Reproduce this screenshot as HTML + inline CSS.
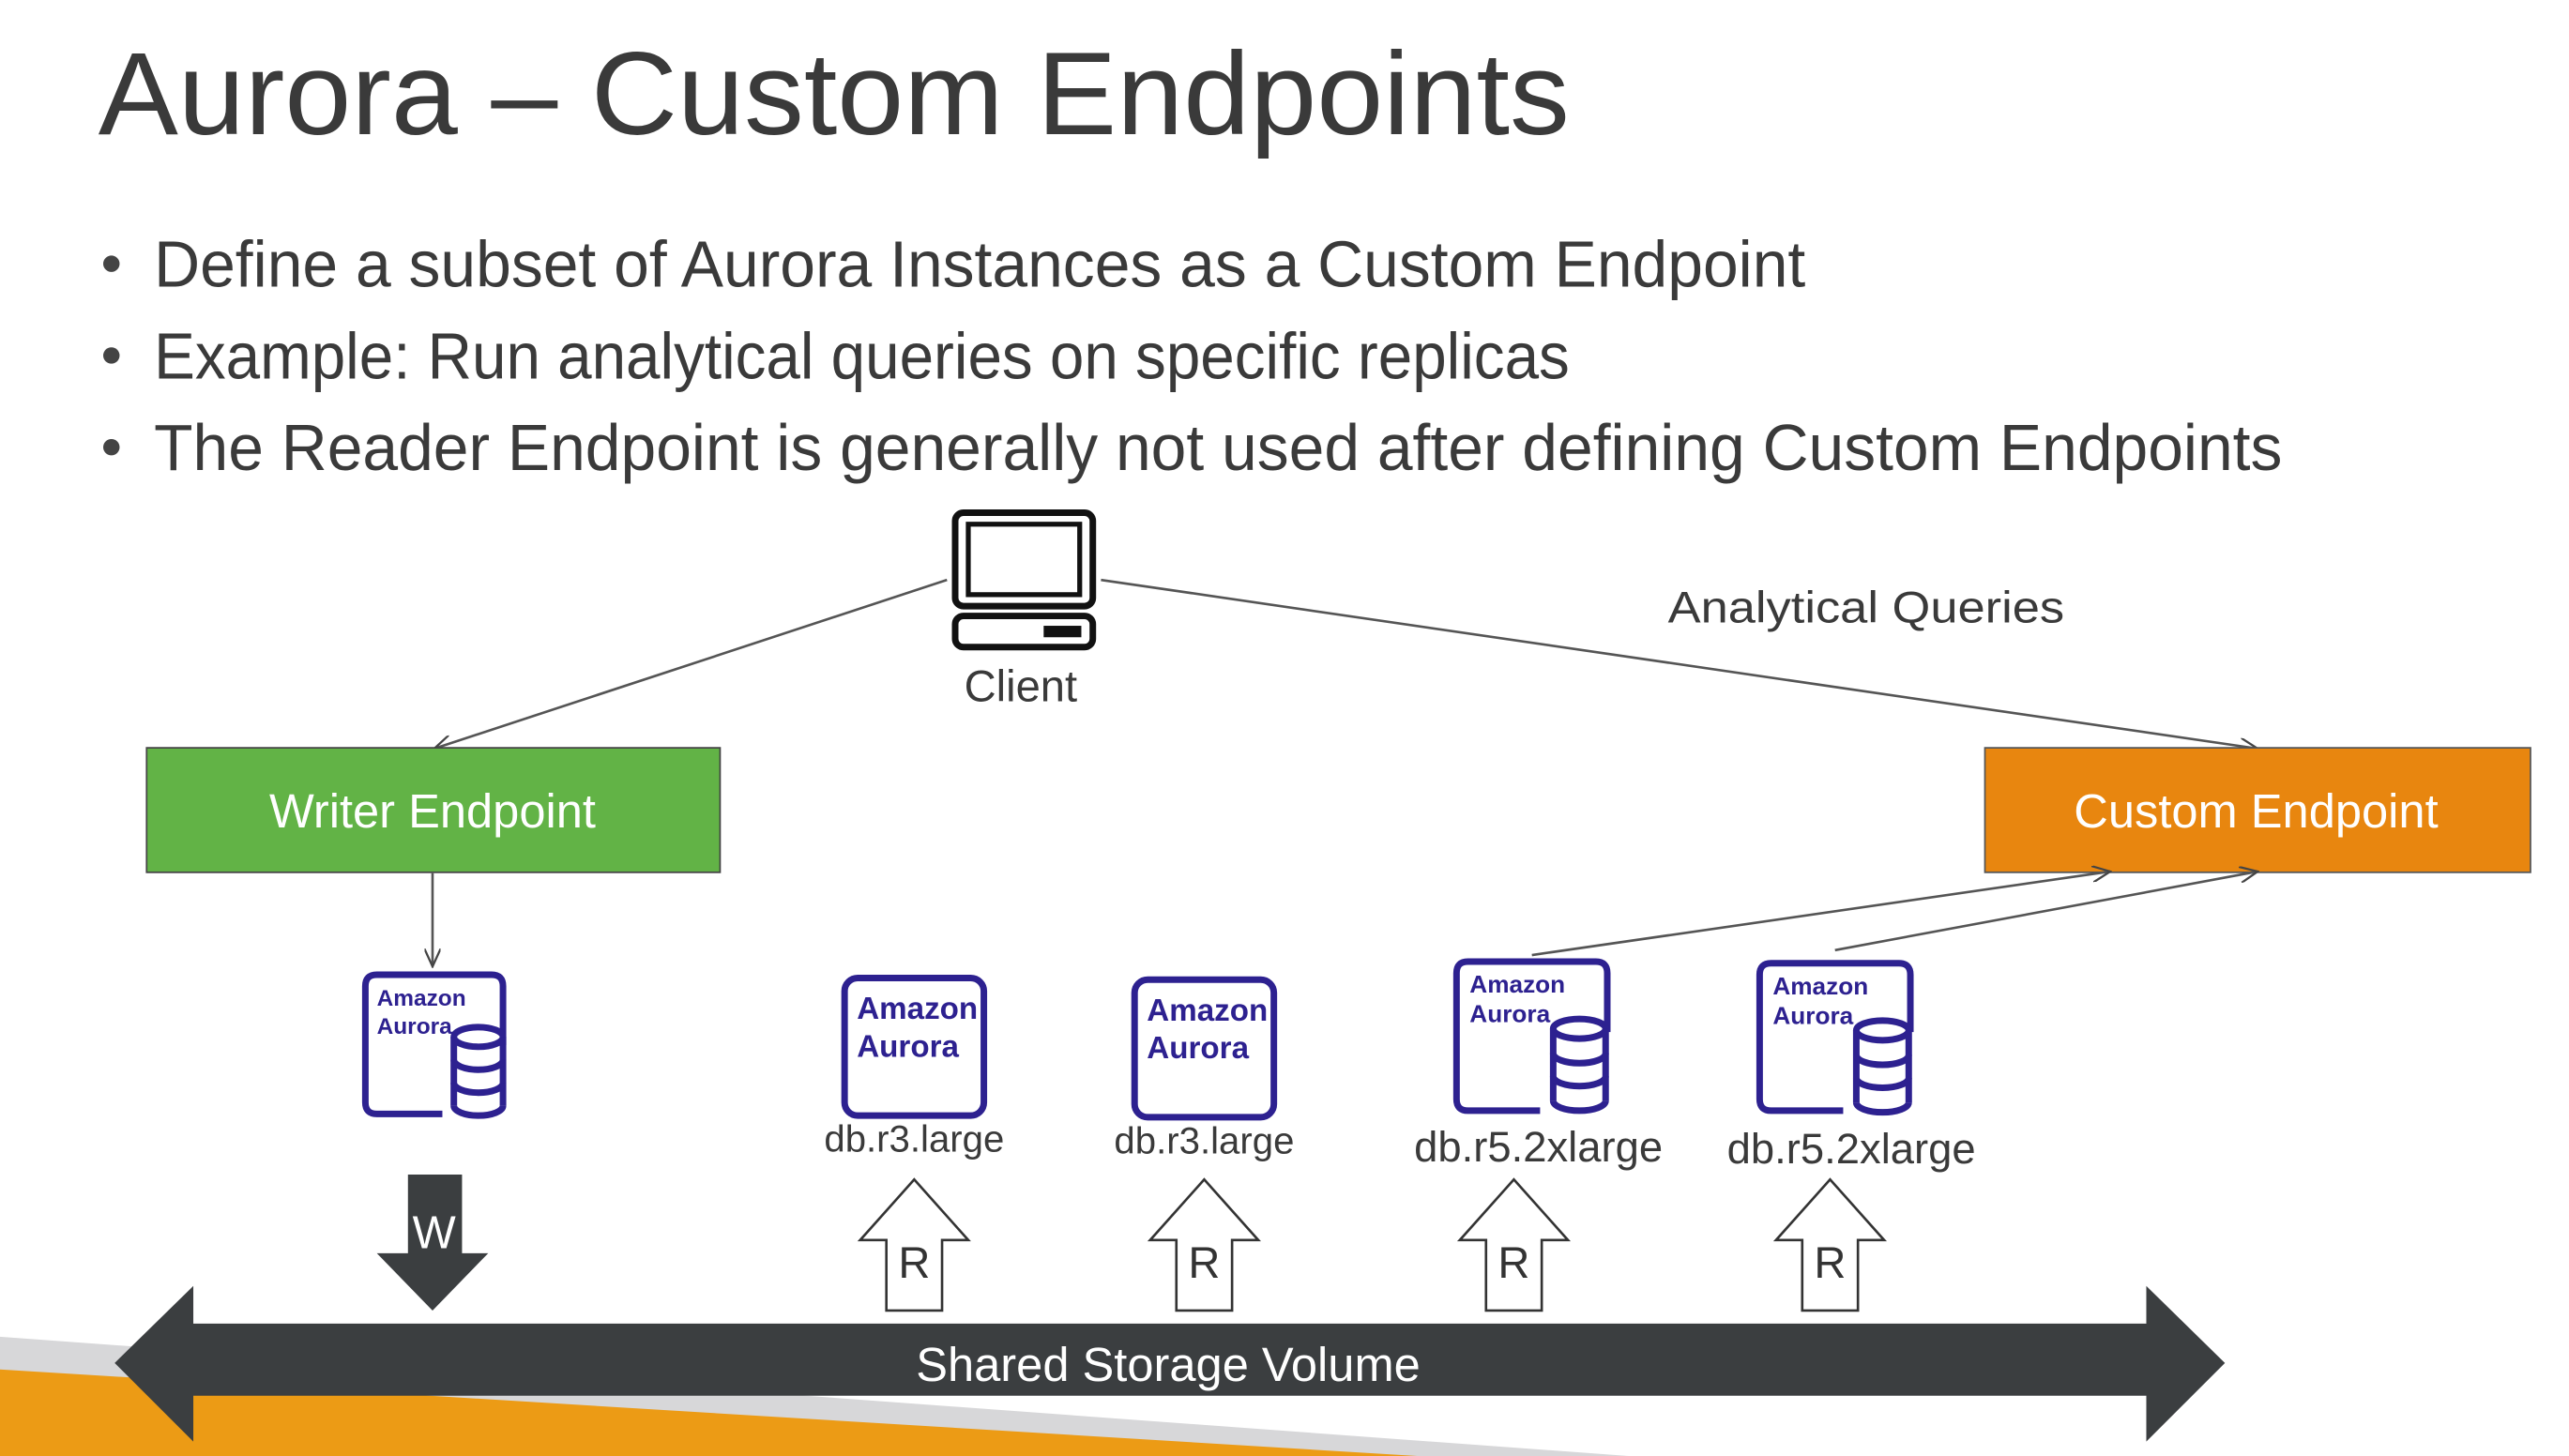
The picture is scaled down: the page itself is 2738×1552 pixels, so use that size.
<!DOCTYPE html>
<html><head><meta charset="utf-8"><style>
html,body{margin:0;padding:0;background:#fff;width:2738px;height:1552px;overflow:hidden}
svg{display:block}
text{font-family:"Liberation Sans","DejaVu Sans",sans-serif}
</style></head><body>
<svg width="2738" height="1552" viewBox="0 0 1568 888.8" preserveAspectRatio="none" xmlns="http://www.w3.org/2000/svg">
<defs>
<marker id="ah" markerWidth="12" markerHeight="10" refX="11" refY="5" orient="auto" markerUnits="userSpaceOnUse">
<path d="M0,0 L11,5 L0,10" fill="none" stroke="#444" stroke-width="1.3"/>
</marker>
</defs>
<polygon points="0,816 0,888.8 994,888.8" fill="#d7d7d9"/>
<polygon points="0,836 0,888.8 865,888.8" fill="#ec9b15"/>

<text x="60" y="82" font-size="72" fill="#3a3a3a" textLength="898" lengthAdjust="spacingAndGlyphs">Aurora – Custom Endpoints</text>
<g font-size="40" fill="#3a3a3a">
<circle cx="68" cy="161" r="5" fill="#444"/>
<text x="94" y="175" textLength="1008" lengthAdjust="spacingAndGlyphs">Define a subset of Aurora Instances as a Custom Endpoint</text>
<circle cx="68" cy="217" r="5" fill="#444"/>
<text x="94" y="231" textLength="864" lengthAdjust="spacingAndGlyphs">Example: Run analytical queries on specific replicas</text>
<circle cx="68" cy="273" r="5" fill="#444"/>
<text x="94" y="287" textLength="1299" lengthAdjust="spacingAndGlyphs">The Reader Endpoint is generally not used after defining Custom Endpoints</text>
</g>

<rect x="583" y="313" width="84" height="57" rx="5" fill="#fff" stroke="#111" stroke-width="4"/>
<rect x="591" y="320" width="68" height="43" fill="#fff" stroke="#111" stroke-width="3"/>
<rect x="583" y="376" width="84" height="19" rx="5" fill="#fff" stroke="#111" stroke-width="4"/>
<rect x="637" y="382" width="23" height="7" fill="#111"/>
<text x="623" y="428" font-size="27" fill="#3a3a3a" text-anchor="middle">Client</text>

<line x1="578" y1="354" x2="265" y2="457" stroke="#555" stroke-width="1.5" marker-end="url(#ah)"/>
<line x1="672" y1="354" x2="1378" y2="457" stroke="#555" stroke-width="1.5" marker-end="url(#ah)"/>
<text x="1018" y="380" font-size="27" fill="#3a3a3a" textLength="242" lengthAdjust="spacingAndGlyphs">Analytical Queries</text>

<rect x="89.5" y="456.5" width="350" height="76" fill="#62b346" stroke="#444" stroke-width="1"/>
<text x="264" y="505" font-size="29" fill="#fff" text-anchor="middle">Writer Endpoint</text>
<rect x="1211.5" y="456.5" width="333" height="76" fill="#e8860f" stroke="#555" stroke-width="1"/>
<text x="1377" y="505" font-size="29" fill="#fff" text-anchor="middle">Custom Endpoint</text>

<line x1="264" y1="533" x2="264" y2="590" stroke="#555" stroke-width="1.5" marker-end="url(#ah)"/>
<line x1="935" y1="583" x2="1288" y2="532" stroke="#555" stroke-width="1.5" marker-end="url(#ah)"/>
<line x1="1120" y1="580" x2="1378" y2="532" stroke="#555" stroke-width="1.5" marker-end="url(#ah)"/>

<g fill="none" stroke="#2d2190" stroke-width="4">
 <path d="M270,680 H230 Q223,680 223,673 V602 Q223,595 230,595 H300 Q307,595 307,602 V638"/>
 <g transform="translate(292,627)"><ellipse cx="0" cy="6" rx="15" ry="6"/><path d="M-15,6 V48 M15,6 V48"/><path d="M-15,20 A15,6 0 0 0 15,20 M-15,34 A15,6 0 0 0 15,34 M-15,48 A15,6 0 0 0 15,48"/></g>
 <rect x="515.5" y="597" width="85" height="84" rx="8"/>
 <rect x="692.5" y="598" width="85" height="84" rx="8"/>
 <path d="M940,678 H896 Q889,678 889,671 V594 Q889,587 896,587 H974 Q981,587 981,594 V630"/>
 <g transform="translate(964,622)"><ellipse cx="0" cy="6" rx="16" ry="6"/><path d="M-16,6 V50 M16,6 V50"/><path d="M-16,21 A16,6 0 0 0 16,21 M-16,35 A16,6 0 0 0 16,35 M-16,50 A16,6 0 0 0 16,50"/></g>
 <path d="M1125,678 H1081 Q1074,678 1074,671 V595 Q1074,588 1081,588 H1159 Q1166,588 1166,595 V630"/>
 <g transform="translate(1149,623)"><ellipse cx="0" cy="6" rx="16" ry="6"/><path d="M-16,6 V50 M16,6 V50"/><path d="M-16,21 A16,6 0 0 0 16,21 M-16,35 A16,6 0 0 0 16,35 M-16,50 A16,6 0 0 0 16,50"/></g>
</g>
<g fill="#2d2190" font-weight="bold">
 <text x="230" y="614" font-size="14">Amazon</text><text x="230" y="631" font-size="14">Aurora</text>
 <text x="523" y="622" font-size="19">Amazon</text><text x="523" y="645" font-size="19">Aurora</text>
 <text x="700" y="623" font-size="19">Amazon</text><text x="700" y="646" font-size="19">Aurora</text>
 <text x="897" y="606" font-size="15">Amazon</text><text x="897" y="624" font-size="15">Aurora</text>
 <text x="1082" y="607" font-size="15">Amazon</text><text x="1082" y="625" font-size="15">Aurora</text>
</g>
<g fill="#3a3a3a" text-anchor="middle">
 <text x="558" y="703" font-size="23">db.r3.large</text>
 <text x="735" y="704" font-size="23">db.r3.large</text>
 <text x="939" y="709" font-size="26">db.r5.2xlarge</text>
 <text x="1130" y="710" font-size="26">db.r5.2xlarge</text>
</g>

<polygon points="249,717 282,717 282,765 298,765 264,800 230,765 249,765" fill="#3b3e40"/>
<text x="265" y="762" font-size="28" fill="#fff" text-anchor="middle">W</text>
<g fill="#fff" stroke="#333" stroke-width="1.5">
 <polygon points="558,720 591,757 575,757 575,800 541,800 541,757 525,757"/>
 <polygon points="735,720 768,757 752,757 752,800 718,800 718,757 702,757"/>
 <polygon points="924,720 957,757 941,757 941,800 907,800 907,757 891,757"/>
 <polygon points="1117,720 1150,757 1134,757 1134,800 1100,800 1100,757 1084,757"/>
</g>
<g font-size="27" fill="#333" text-anchor="middle">
 <text x="558" y="780">R</text><text x="735" y="780">R</text><text x="924" y="780">R</text><text x="1117" y="780">R</text>
</g>

<polygon points="70,832 118,785 118,808 1310,808 1310,785 1358,832 1310,880 1310,852 118,852 118,880" fill="#3b3e40"/>
<text x="713" y="843" font-size="29" fill="#fff" text-anchor="middle">Shared Storage Volume</text>
</svg>
</body></html>
